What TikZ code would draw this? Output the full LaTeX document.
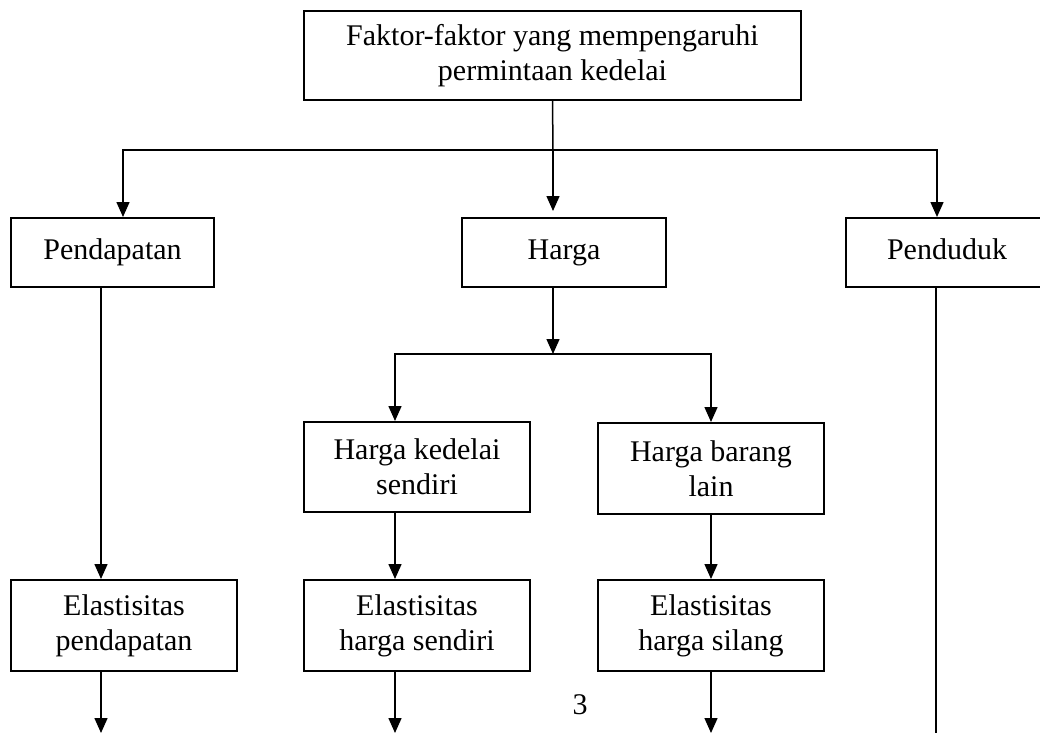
\documentclass[tikz,border=0pt]{standalone}
\usepackage{fontspec}
\setmainfont{Liberation Serif}
\usetikzlibrary{arrows.meta}
\tikzset{
  kotak/.style={draw, line width=2pt, align=center, inner sep=0pt, font=\fontsize{30}{35}\selectfont},
  panah/.style={line width=1.5pt, -{Triangle[length=15pt,width=13pt]}},
  garis/.style={line width=1.5pt}
}
\begin{document}
\begin{tikzpicture}[x=1pt,y=-1pt]
  \useasboundingbox (0,0) rectangle (1040,733);
  \clip (0,0) rectangle (1040,733);
  \node[kotak, minimum width=497pt, minimum height=89pt] (faktor) at (552.5,55.5) {Faktor-faktor yang mempengaruhi\\permintaan kedelai};
  \node[kotak, minimum width=203pt, minimum height=69pt] (pendapatan) at (112.5,252.5) {Pendapatan};
  \node[kotak, minimum width=204pt, minimum height=69pt] (harga) at (564,252.5) {Harga};
  \node[kotak, minimum width=203pt, minimum height=69pt] (penduduk) at (947,252.5) {Penduduk\vphantom{p}};
  \node[kotak, minimum width=226pt, minimum height=90pt] (hks) at (417,467) {Harga kedelai\\sendiri};
  \node[kotak, minimum width=226pt, minimum height=91pt] (hbl) at (711,468.5) {Harga barang\\lain};
  \node[kotak, minimum width=226pt, minimum height=91pt] (ep) at (124,625.5) {Elastisitas\\pendapatan};
  \node[kotak, minimum width=226pt, minimum height=91pt] (ehs) at (417,625.5) {Elastisitas\\harga sendiri};
  \node[kotak, minimum width=226pt, minimum height=91pt] (ehsl) at (711,625.5) {Elastisitas\\harga silang};
  \node[font=\fontsize{30}{35}\selectfont] (hal) at (580,705) {3};

  \coordinate (c1) at (553,150);
  \coordinate (c2) at (553,354);
  \coordinate (bawah) at (0,733);
  \coordinate (p1) at ([xshift=-11.5pt]pendapatan.south);
  \coordinate (p2) at ([xshift=-22pt]hks.south);
  \coordinate (p3) at ([xshift=-11pt]penduduk.south);

  \draw[garis] (faktor.south) -- (c1);
  \draw[panah] (c1) -| ([xshift=10.5pt]pendapatan.north);
  \draw[panah, shorten >=6pt] (c1) -- (c1 |- harga.north);
  \draw[panah] (c1) -| ([xshift=-10pt]penduduk.north);

  \draw[panah] (p1) -- (p1 |- ep.north);
  \draw[panah] (p1 |- ep.south) -- (p1 |- bawah);

  \draw[panah] (c1 |- harga.south) -- (c2);
  \draw[panah] (c2) -| (p2 |- hks.north);
  \draw[panah] (c2) -| (hbl.north);
  \draw[panah] (p2) -- (p2 |- ehs.north);
  \draw[panah] (p2 |- ehs.south) -- (p2 |- bawah);
  \draw[panah] (hbl.south) -- (ehsl.north);
  \draw[panah] (ehsl.south) -- (ehsl.south |- bawah);

  \draw[garis] (p3) -- (p3 |- bawah);
\end{tikzpicture}
\end{document}
